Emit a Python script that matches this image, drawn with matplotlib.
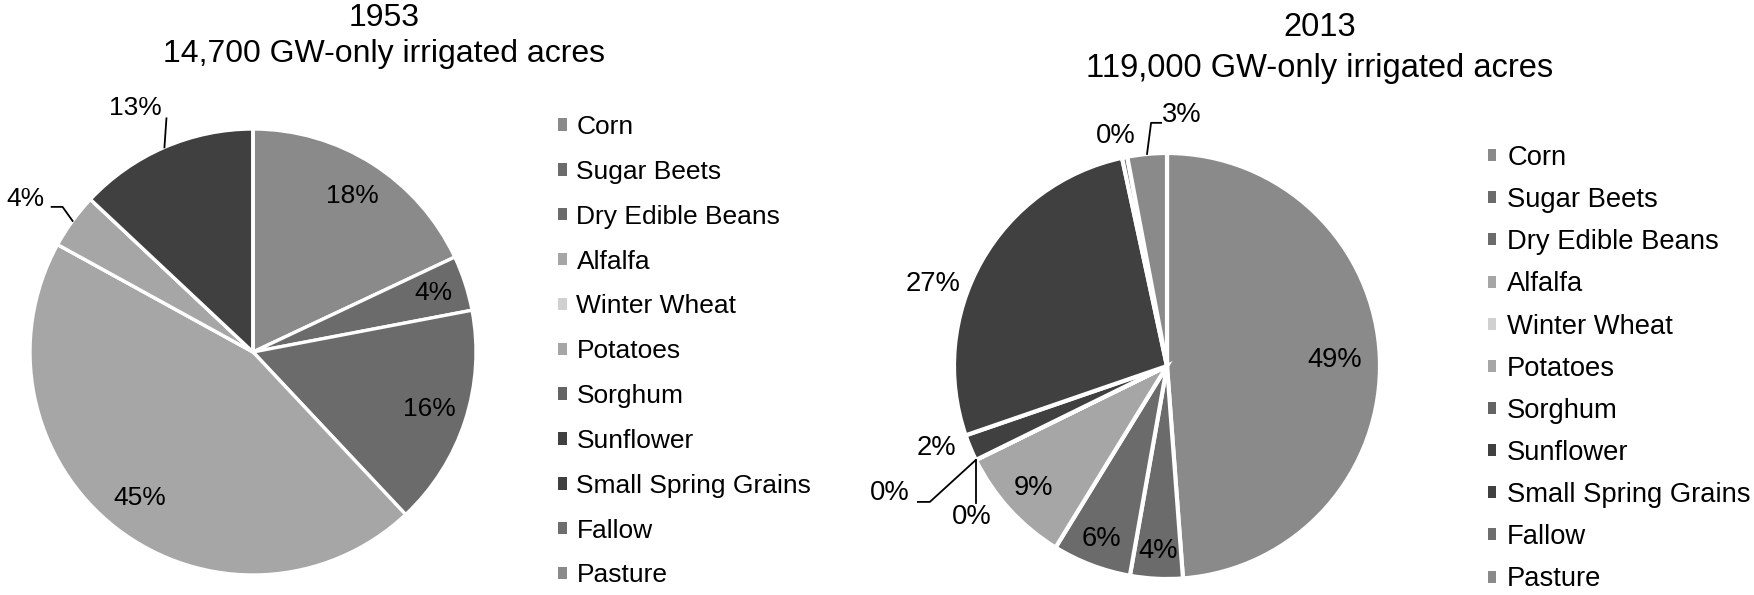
import numpy as np
import matplotlib.pyplot as plt
from matplotlib.patches import Patch

plt.rcParams['font.family'] = ['Liberation Sans', 'DejaVu Sans']

crops = ["Corn", "Sugar Beets", "Dry Edible Beans", "Alfalfa", "Winter Wheat",
         "Potatoes", "Sorghum", "Sunflower", "Small Spring Grains", "Fallow", "Pasture"]
shares_1953 = [18, 4, 16, 45, 0, 4, 0, 0, 13, 0, 0]
shares_2013 = [49, 4, 6, 9, 0, 0, 0, 2, 27, 0.4, 3]
crop_colors = ["#8a8a8a", "#6b6b6b", "#6b6b6b", "#a6a6a6", "#d0d0d0",
               "#a6a6a6", "#646464", "#404040", "#404040", "#6e6e6e", "#8a8a8a"]

title_1953 = ["1953", "14,700 GW-only irrigated acres"]
title_2013 = ["2013", "119,000 GW-only irrigated acres"]

# label placement: ("in", r) along the wedge middle, or
# ("out", text offset, leader points) relative to the wedge edge point
labels_1953 = {
    0: ("in", 0.83), 1: ("in", 0.85), 2: ("in", 0.83), 3: ("in", 0.83),
    5: ("out", (-0.21, 0.10), [(-0.045, 0.063), (-0.094, 0.063)]),
    8: ("out", (-0.13, 0.175), [(0.009, 0.13)]),
}
labels_2013 = {
    0: ("in", 0.79), 1: ("in", 0.87), 2: ("in", 0.87), 3: ("in", 0.85),
    4: ("out", (-0.019, -0.27), [(0.0, -0.202)]),
    5: ("out", (-0.404, -0.155), [(-0.216, -0.197), (-0.272, -0.197)]),
    7: ("out", (-0.16, 0.0), []),
    8: ("out", (-0.225, -0.108), []),
    9: ("out", (-0.04, 0.10), []),
    10: ("out", (0.164, 0.183), [(0.019, 0.146), (0.066, 0.146)]),
}


def draw_pie(ax, shares, labels, fsize, lw):
    wedges, _ = ax.pie(shares, colors=crop_colors, startangle=90, counterclock=False,
                       radius=1, wedgeprops=dict(edgecolor="white", linewidth=lw))
    total = sum(shares)
    for i, spec in labels.items():
        w = wedges[i]
        ang = np.deg2rad((w.theta1 + w.theta2) / 2)
        ex, ey = np.cos(ang), np.sin(ang)
        txt = "%d%%" % round(100 * shares[i] / total)
        if spec[0] == "in":
            r = spec[1]
            ax.text(r * ex, r * ey, txt, ha="center", va="center", fontsize=fsize)
        else:
            (tx, ty), pts = spec[1], spec[2]
            if pts:
                xs = [ex] + [ex + p[0] for p in pts]
                ys = [ey] + [ey + p[1] for p in pts]
                ax.plot(xs, ys, color="black", lw=1.3, clip_on=False)
            ax.text(ex + tx, ey + ty, txt, ha="center", va="center", fontsize=fsize)
    ax.set_xlim(-1, 1)
    ax.set_ylim(-1, 1)
    ax.axis("off")


W, H = 1754, 595
fig = plt.figure(figsize=(W / 100, H / 100), dpi=100)

# left pie: centre (253, 352) px, radius 223 px
ax1 = fig.add_axes([(253 - 223) / W, (H - 352 - 223) / H, 446 / W, 446 / H])
draw_pie(ax1, shares_1953, labels_1953, 19, 2.4)
# right pie: centre (1167, 366) px, radius 213 px
ax2 = fig.add_axes([(1167 - 213) / W, (H - 366 - 213) / H, 426 / W, 426 / H])
draw_pie(ax2, shares_2013, labels_2013, 19.7, 3)

fig.text(384 / W, 1 - 18 / H, title_1953[0], ha="center", va="center", fontsize=23)
fig.text(384 / W, 1 - 54 / H, title_1953[1], ha="center", va="center", fontsize=23)
fig.text(1320 / W, 1 - 28 / H, title_2013[0], ha="center", va="center", fontsize=23.5)
fig.text(1320 / W, 1 - 69 / H, title_2013[1], ha="center", va="center", fontsize=23.5)

handles = [Patch(facecolor=c, edgecolor="none") for c in crop_colors]
fig.legend(handles, crops, loc="upper left", bbox_to_anchor=(558 / W, 1 - 115 / H),
           frameon=False, fontsize=19, handlelength=0.35, handleheight=0.35,
           handletextpad=0.35, labelspacing=0.79, borderpad=0, borderaxespad=0)
fig.legend(handles, crops, loc="upper left", bbox_to_anchor=(1488 / W, 1 - 145 / H),
           frameon=False, fontsize=19.7, handlelength=0.3, handleheight=0.3,
           handletextpad=0.4, labelspacing=0.59, borderpad=0, borderaxespad=0)

fig.savefig("out.png", dpi=100)
